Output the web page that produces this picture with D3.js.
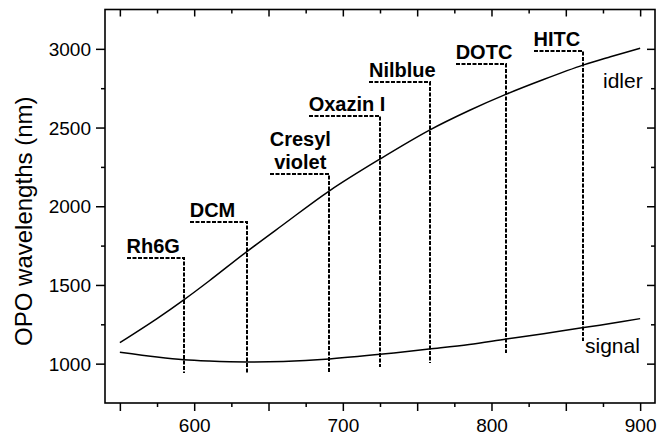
<!DOCTYPE html>
<html>
<head>
<meta charset="utf-8">
<script src="https://cdn.jsdelivr.net/npm/d3@7"></script>
<style>
  html, body { margin: 0; padding: 0; background: #fff; }
  svg { display: block; }
  text { font-family: "Liberation Sans", Arial, sans-serif; fill: #000; }
</style>
</head>
<body>
<svg id="chart" width="658" height="437"></svg>
<script>
// Pump wavelength (nm) and the OPO signal / idler output wavelengths (nm)
const pump   = [550, 575, 593, 610, 635, 660, 691, 725, 758, 785, 810, 835, 862, 880, 900];
const idler  = [1133, 1286, 1405, 1525, 1709, 1884, 2098, 2300, 2482, 2608, 2712, 2805, 2898, 2950, 3004];
const signal = [1072, 1042, 1025, 1017, 1011, 1014, 1030, 1059, 1093, 1122, 1157, 1190, 1229, 1255, 1286];

// Dye lasers: tuning range (nm), level of the range bar and lower end of the marker (nm, OPO axis)
const dyeNames  = [["Rh6G"], ["DCM"], ["Cresyl", "violet"], ["Oxazin I"], ["Nilblue"], ["DOTC"], ["HITC"]];
const dyeStart  = [554.5, 597, 650.8, 677, 717.6, 775.9, 828.3];
const dyeEnd    = [593, 635.2, 690.7, 724.8, 758.4, 809.9, 861.9];
const dyeLevel  = [1673, 1898, 2203, 2573, 2791, 2902, 2986];
const dyeBottom = [943, 934, 943, 981, 1002, 1070, 1146];

const xMajor = [550, 600, 650, 700, 750, 800, 850, 900];
const xMinor = [575, 625, 675, 725, 775, 825, 875];
const xLabels = [600, 700, 800, 900];
const yMajor = [1000, 1500, 2000, 2500, 3000];
const yMinor = [1250, 1750, 2250, 2750];
const yTitle = "OPO wavelengths (nm)";

const svg = d3.select("#chart");
const mLeft = 105, mRight = 655, mTop = 9.5, mBottom = 403;

const x = d3.scaleLinear().domain([540, 910]).range([mLeft, mRight]);
const y = d3.scaleLinear().domain([750, 3250]).range([mBottom, mTop]);

// Axes: outward ticks left/bottom, inward ticks top/right
const axisStroke = g => {
  g.select(".domain").remove();
  g.selectAll(".tick line").attr("stroke", "#000").attr("stroke-width", 1.5);
};

svg.append("g").attr("transform", `translate(0,${mBottom})`)
  .call(d3.axisBottom(x).tickValues(xMajor).tickSize(8).tickFormat(d => xLabels.includes(d) ? d : ""))
  .call(axisStroke)
  .call(g => g.selectAll(".tick text").attr("font-size", 19).attr("dy", 0).attr("y", 29));
svg.append("g").attr("transform", `translate(0,${mBottom})`)
  .call(d3.axisBottom(x).tickValues(xMinor).tickSize(4).tickFormat(""))
  .call(axisStroke);
svg.append("g").attr("transform", `translate(0,${mTop})`)
  .call(d3.axisBottom(x).tickValues(xMajor).tickSize(7).tickFormat(""))
  .call(axisStroke);
svg.append("g").attr("transform", `translate(0,${mTop})`)
  .call(d3.axisBottom(x).tickValues(xMinor).tickSize(4).tickFormat(""))
  .call(axisStroke);

svg.append("g").attr("transform", `translate(${mLeft},0)`)
  .call(d3.axisLeft(y).tickValues(yMajor).tickSize(9).tickPadding(5).tickFormat(d3.format("d")))
  .call(axisStroke)
  .call(g => g.selectAll(".tick text").attr("font-size", 19).attr("dy", "0.35em"));
svg.append("g").attr("transform", `translate(${mLeft},0)`)
  .call(d3.axisLeft(y).tickValues(yMinor).tickSize(4).tickFormat(""))
  .call(axisStroke);
svg.append("g").attr("transform", `translate(${mRight},0)`)
  .call(d3.axisLeft(y).tickValues(yMajor).tickSize(8).tickFormat(""))
  .call(axisStroke);
svg.append("g").attr("transform", `translate(${mRight},0)`)
  .call(d3.axisLeft(y).tickValues(yMinor).tickSize(4).tickFormat(""))
  .call(axisStroke);

// Frame
svg.append("rect")
  .attr("x", mLeft).attr("y", mTop)
  .attr("width", mRight - mLeft).attr("height", mBottom - mTop)
  .attr("fill", "none").attr("stroke", "#000").attr("stroke-width", 1.6);

// Y title
svg.append("text")
  .attr("transform", `translate(31.5,${(mTop + mBottom) / 2 + 15}) rotate(-90)`)
  .attr("text-anchor", "middle")
  .attr("font-size", 24)
  .text(yTitle);

// Tuning curves
const line = d3.line().x(d => x(d[0])).y(d => y(d[1])).curve(d3.curveCatmullRom);
[idler, signal].forEach(series => {
  svg.append("path")
    .datum(pump.map((p, i) => [p, series[i]]))
    .attr("d", line)
    .attr("fill", "none")
    .attr("stroke", "#000")
    .attr("stroke-width", 1.5);
});

svg.append("text").attr("x", 603).attr("y", 88.3).attr("font-size", 21).text("idler");
svg.append("text").attr("x", 585).attr("y", 352.5).attr("font-size", 21).text("signal");

// Dye laser markers: dashed bar over the tuning range, then a drop line at its red end
const dyes = dyeNames.map((name, i) => ({
  name, start: dyeStart[i], end: dyeEnd[i], level: dyeLevel[i], bottom: dyeBottom[i]
}));

const snap = v => Math.round(v);
const dg = svg.append("g");
dg.selectAll("path.dye")
  .data(dyes)
  .join("path")
  .attr("class", "dye")
  .attr("d", d => `M${snap(x(d.start))},${snap(y(d.level))}H${snap(x(d.end))}V${snap(y(d.bottom))}`)
  .attr("fill", "none")
  .attr("stroke", "#000")
  .attr("stroke-width", 2)
  .attr("stroke-dasharray", "4,1.5");

dyes.forEach(d => {
  const t = dg.append("text")
    .attr("font-size", 20)
    .attr("font-weight", "bold")
    .attr("text-anchor", "middle");
  const n = d.name.length;
  d.name.forEach((s, k) => {
    t.append("tspan").attr("x", 0).attr("y", -(n - 1 - k) * 23.5).text(s);
  });
  const bb = t.node().getBBox();
  t.attr("transform", `translate(${x(d.start) - bb.x},${y(d.level) - 5})`);
});
</script>
</body>
</html>
